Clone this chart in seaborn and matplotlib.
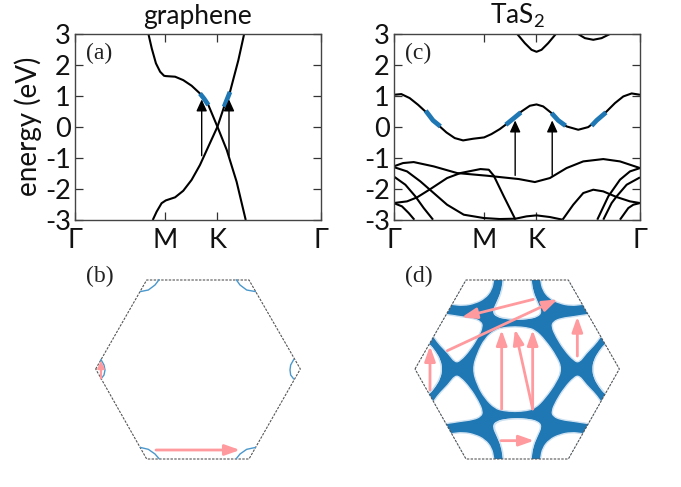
import numpy as np
import matplotlib
matplotlib.use("Agg")
import matplotlib.pyplot as plt
from matplotlib.path import Path
from matplotlib.patches import PathPatch, Polygon
import seaborn as sns

sns.set_theme(style="white")
plt.rcParams['font.family'] = ['Lato', 'DejaVu Sans']
plt.rcParams['mathtext.default'] = 'regular'

W, H = 681, 487
BLUE = "#1f77b4"
PINK = "#ff9a9e"

gamma_ticks = [0, 0.366, 0.579, 1]
tick_labels = ["Γ", "M", "K", "Γ"]
energy_ticks = [-3, -2, -1, 0, 1, 2, 3]

# graphene bands (path fraction, eV)
g1_x = [.298, .312, .329, .346, .362, .369, .407, .440, .474, .508, .542, .579, .617, .657, .694]
g1_y = [3, 2.52, 2.04, 1.77, 1.64, 1.63, 1.61, 1.5, 1.32, 1.07, .70, 0, -.75, -1.77, -3]
g2_x = [.688, .664, .630, .606, .579, .542, .508, .474, .44, .407, .369, .352, .332, .316]
g2_y = [3, 2.14, 1.12, .64, 0, -.64, -1.23, -1.71, -2.06, -2.27, -2.37, -2.46, -2.73, -3]
g_blue1_x = [.508, .525, .542]
g_blue1_y = [1.07, .90, .70]
g_blue2_x = [.606, .618, .630]
g_blue2_y = [.64, .88, 1.12]
g_arrows_x = [.515, .626]
g_arrow_from = -0.93
g_arrow_to = 0.88

# TaS2 bands, read in reference zoom pixels (x, y)
t_main = [(163,285),(185,283),(210,295),(235,315),(260,338),(280,362),(300,380),(320,398),(345,415),
          (370,422),(400,417),(433,413),(455,403),(480,388),(500,373),(520,357),(545,335),(570,318),
          (590,314),(610,320),(635,340),(655,362),(680,380),(715,390),(745,382),(770,362),(800,335),
          (825,310),(850,290),(875,281),(900,285)]
t_top1 = [(530,100),(555,130),(575,150),(590,156),(605,150),(625,130),(650,100)]
t_top2 = [(710,100),(735,115),(760,120),(785,115),(815,100)]
t_b1 = [(162,500),(190,490),(222,487),(282,500),(352,520),(442,528),(537,538),
        (585,547),(630,535),(680,505),(730,485),(790,478),(840,485),(900,505)]
t_b2 = [(162,610),(202,605),(232,593),(272,568),(322,535),(362,520),(422,508),(447,510),(462,528),
        (492,590),(527,660)]
t_b3 = [(162,502),(202,515),(242,545),(282,580),(322,615),(372,645),(432,655),(480,658),(527,657),
        (560,650),(590,647),(630,652),(668,660)]
t_b4 = [(668,660),(700,615),(730,580),(760,570),(790,575),(830,592),(870,605),(900,610)]
t_b5 = [(772,660),(805,590),(840,540),(870,515),(900,505)]
t_b6 = [(790,660),(815,610),(830,590),(860,555),(900,533)]
t_b7 = [(840,660),(865,625),(880,615),(900,610)]
t_b8 = [(162,530),(197,555),(227,590),(252,625),(280,660)]
t_b9 = [(162,610),(187,620),(207,640),(224,660)]
t_blue = [[(258,333),(280,362),(302,380)], [(498,375),(520,357),(543,338)],
          [(635,340),(655,362),(677,378)], [(755,378),(770,362),(798,338)]]
t_arrows_zx = [526, 637]
t_arrow_from_zy = 527
t_arrow_to_zy = 362

# Fermi contours / pockets in zoomed BZ pixels
hex_b = [(107,327),(260,60),(567,60),(721,327),(567,597),(260,597)]
hex_d = [(75,327),(228,60),(535,60),(688,327),(535,597),(228,597)]
b_arcs = [[(240,95),(265,90),(285,75),(298,58)], [(528,58),(540,75),(560,90),(588,95)],
          [(240,562),(265,568),(285,582),(298,597)], [(528,597),(540,582),(560,568),(588,562)],
          [(122,297),(132,315),(135,330),(132,345),(122,358)], [(702,297),(692,315),(690,330),(692,345),(702,358)]]
b_arrow_long = ((288,570),(540,570))
b_arrow_short = ((123,355),(123,302))
d_arrows = [((430,118),(215,172)), ((172,272),(503,118)), ((120,390),(120,258)), ((335,447),(335,210)),
            ((428,447),(375,208)), ((428,447),(428,210)), ((562,288),(562,170)), ((333,542),(432,542))]
pocket_center = [(375,200),(410,203),(435,210),(465,240),(500,290),(515,327),(500,365),(465,415),(435,445),
                 (410,452),(375,455),(340,452),(315,445),(285,415),(262,375),(248,327),(262,280),(285,235),
                 (315,210),(340,203)]
pocket_top = [(342,30),(340,60),(335,95),(322,125),(308,155),(320,170),(350,176),(380,178),(410,176),
              (440,170),(453,155),(440,125),(428,95),(422,60),(420,30)]
pocket_corner = [(130,125),(185,133),(220,137),(255,130),(285,115),(305,90),(311,60),(316,25),(130,25)]
pocket_side = [(130,160),(168,163),(210,170),(250,175),(273,185),(278,200),(265,230),(240,270),(210,303),
               (195,307),(175,280),(145,250),(130,227),(100,205)]
pocket_left = [(95,240),(117,253),(135,275),(150,300),(155,327),(150,354),(135,380),(118,401),(95,414),(30,327)]

def xy(points):
    a = np.array(points, float)
    return (a[:, 0] - 163) / 737, (381 - a[:, 1]) / 93.3

def band(ax, x, y, color="black", lw=1.5):
    sns.lineplot(x=np.asarray(x), y=np.asarray(y), ax=ax, color=color, lw=lw, sort=False,
                 estimator=None, errorbar=None, legend=False, solid_capstyle="butt")

def axes_px(l, t, r, b):
    return fig.add_axes([l / W, 1 - b / H, (r - l) / W, (b - t) / H])

def style_band_axes(ax, title, tag, ylabel=None):
    ax.set_xlim(0, 1)
    ax.set_ylim(-3, 3)
    ax.set_xticks(gamma_ticks, tick_labels)
    ax.set_yticks(energy_ticks, [str(v) for v in energy_ticks])
    ax.tick_params(axis="both", direction="in", length=6, width=0.9, top=True, right=True,
                   left=True, bottom=True, labelsize=19.5, color="#333333", labelcolor="#111111", pad=3)
    ax.tick_params(axis="x", pad=6)
    for s in ax.spines.values():
        s.set_visible(True)
        s.set_color("#444444")
        s.set_linewidth(1.0)
    ax.set_title(title, fontsize=19, pad=7, color="#111111")
    ax.text(0.045, 0.895, tag, transform=ax.transAxes, family="Liberation Serif", fontsize=17,
            ha="left", va="center", color="#222222")
    ax.set_xlabel("")
    ax.set_ylabel(ylabel or "", fontsize=20, labelpad=2, color="#111111")

def arrow(ax, p, q, color, lw, head_len, head_w, scale=10):
    ax.annotate("", xy=q, xytext=p, arrowprops=dict(
        arrowstyle=f"-|>,head_length={head_len},head_width={head_w}",
        color=color, lw=lw, shrinkA=0, shrinkB=0, mutation_scale=scale))

def smooth_patch(points, **kw):
    p = np.array(points, float)
    n = len(p)
    mid = (p + np.roll(p, -1, axis=0)) / 2
    verts = [mid[-1]]
    codes = [Path.MOVETO]
    for i in range(n):
        verts += [p[i], mid[i]]
        codes += [Path.CURVE3, Path.CURVE3]
    return PathPatch(Path(verts, codes), **kw)

fig = plt.figure(figsize=(W / 100, H / 100), dpi=100)

# (a)
ax_a = axes_px(75, 33.5, 321, 220)
band(ax_a, g1_x, g1_y)
band(ax_a, g2_x, g2_y)
band(ax_a, g_blue1_x, g_blue1_y, BLUE, 3.4)
band(ax_a, g_blue2_x, g_blue2_y, BLUE, 3.4)
for x in g_arrows_x:
    arrow(ax_a, (x, g_arrow_from), (x, g_arrow_to), "black", 1.0, 0.7, 0.32)
style_band_axes(ax_a, "graphene", "(a)", "energy (eV)")

# (c)
ax_c = axes_px(394, 33.5, 640, 220)
for pts in [t_main, t_top1, t_top2, t_b1, t_b2, t_b3, t_b4, t_b5, t_b6, t_b7, t_b8, t_b9]:
    band(ax_c, *xy(pts))
for pts in t_blue:
    band(ax_c, *xy(pts), BLUE, 3.4)
for zx in t_arrows_zx:
    x = (zx - 163) / 737
    arrow(ax_c, (x, (381 - t_arrow_from_zy) / 93.3), (x, (381 - t_arrow_to_zy) / 93.3), "black", 1.0, 0.7, 0.32)
style_band_axes(ax_c, "TaS$_2$", "(c)")

# (b)
ax_b = axes_px(60, 260, 340, 487)
ax_b.set_xlim(0, 840)
ax_b.set_ylim(681, 0)
ax_b.axis("off")
ax_b.add_patch(Polygon(hex_b, closed=True, fill=False, ec="#555555", lw=0.8, ls=(0, (2.2, 1.2))))
for arc in b_arcs:
    a = np.array(arc)
    band(ax_b, a[:, 0], a[:, 1], "#4a97cc", 1.0)
arrow(ax_b, *b_arrow_long, PINK, 2.0, 0.9, 0.32)
arrow(ax_b, *b_arrow_short, PINK, 1.6, 0.42, 0.2)
ax_b.text(118, 48, "(b)", family="Liberation Serif", fontsize=17, ha="center", va="center", color="#222222")

# (d)
ax_d = axes_px(390, 260, 640, 487)
ax_d.set_xlim(0, 750)
ax_d.set_ylim(681, 0)
ax_d.axis("off")
hex_patch = Polygon(hex_d, closed=True, fc=BLUE, ec="none")
ax_d.add_patch(hex_patch)
cx, cy = 381.5, 327
def mir(points, fx, fy):
    return [((2 * cx - x) if fx else x, (2 * cy - y) if fy else y) for x, y in points]
pockets = [pocket_center]
for base in [pocket_top, pocket_corner, pocket_side, pocket_left]:
    for fx in (False, True):
        for fy in (False, True):
            pockets.append(mir(base, fx, fy))
for pts in pockets:
    halo = smooth_patch(pts, fc="white", ec="#cfe2f1", lw=1.0)
    ax_d.add_patch(halo)
    halo.set_clip_path(hex_patch)
ax_d.add_patch(Polygon(hex_d, closed=True, fill=False, ec="#555555", lw=0.8, ls=(0, (2.2, 1.2))))
for p, q in d_arrows:
    arrow(ax_d, p, q, PINK, 2.0, 0.9, 0.32)
ax_d.text(85, 48, "(d)", family="Liberation Serif", fontsize=17, ha="center", va="center", color="#222222")

fig.savefig("out.png", dpi=100)
